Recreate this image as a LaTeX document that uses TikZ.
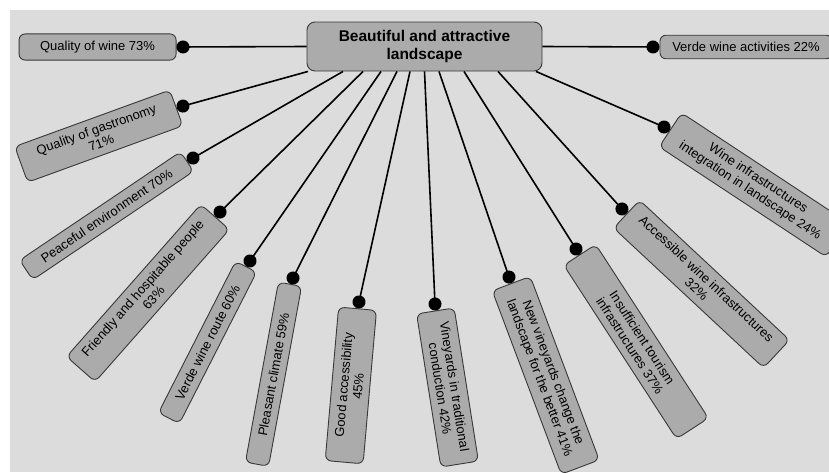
\documentclass[tikz,border=0pt]{standalone}
\usepackage{fontspec}
\setmainfont{Liberation Sans}
\usetikzlibrary{arrows.meta}
\definecolor{bggray}{HTML}{DCDCDC}
\definecolor{boxgray}{HTML}{ABABAB}
\definecolor{edgegray}{HTML}{383838}

\begin{document}
\begin{tikzpicture}[x=1pt,y=-1pt,->,>={Circle[length=13pt]},line width=1.6pt,
        leaf/.style={draw=edgegray,fill=boxgray,line width=0.9pt,rounded corners=6pt,
          font=\fontsize{13}{14.5}\selectfont,align=center,inner xsep=6pt,inner ysep=7pt},
        hub/.style={leaf,rounded corners=8pt,font=\fontsize{15.5}{18}\selectfont\bfseries,
          minimum width=235pt,minimum height=49pt}]

  \useasboundingbox (0,0) rectangle (829,472);
  \fill[bggray] (10,10) rectangle (829,472);

  \node[hub] (hub) at (424.5,46.5) {Beautiful and attractive\\landscape};

  \node[leaf,anchor=east,minimum width=157pt] (wine) at (176.5,47) {Quality of wine 73\%};
  \node[leaf,anchor=east,rotate=20,minimum width=165pt] (gastro) at (176.7,107.8) {Quality of gastronomy\\71\%};
  \node[leaf,anchor=east,rotate=34,minimum width=194pt] (peace) at (187.4,161.3) {Peaceful environment 70\%};
  \node[leaf,anchor=east,rotate=48.6,minimum width=203pt] (people) at (215.4,216.6) {Friendly and hospitable people\\63\%};
  \node[leaf,anchor=east,rotate=63,minimum width=170pt] (route) at (246.3,266.3) {Verde wine route 60\%};
  \node[leaf,anchor=east,rotate=79.6,minimum width=183pt] (climate) at (290.1,283.8) {Pleasant climate 59\%};
  \node[leaf,anchor=east,rotate=85,minimum width=154pt] (access) at (357.6,308.3) {Good accessibility\\45\%};
  \node[leaf,anchor=west,rotate=-81,minimum width=155pt] (trad) at (435.3,310.5) {Vineyards in traditional\\conduction 42\%};
  \node[leaf,anchor=west,rotate=-69.4,minimum width=196pt] (newvin) at (511.1,283.2) {New vineyards change the\\landscape for the better 41\%};
  \node[leaf,anchor=west,rotate=-57,minimum width=207pt] (tourism) at (579.5,254.5) {Insufficient tourism\\infrastructures 37\%};
  \node[leaf,anchor=west,rotate=-43,minimum width=205pt] (infra) at (626.3,213.8) {Accessible wine infrastructures\\32\%};
  \node[leaf,anchor=west,rotate=-33.4,minimum width=200pt] (integr) at (670,129.6) {Wine infrastructures\\integration in landscape 24\%};
  \node[leaf,anchor=west,minimum width=172pt] (activ) at (659.5,47) {Verde wine activities 22\%};

  \path (hub.west) edge (wine.east)
        ([xshift=-116.5pt]hub.south) edge (gastro.east)
        ([xshift=-81.5pt]hub.south)  edge (peace.east)
        ([xshift=-61.5pt]hub.south)  edge (people.east)
        ([xshift=-43.5pt]hub.south)  edge (route.east)
        ([xshift=-27.5pt]hub.south)  edge (climate.east)
        ([xshift=-14.5pt]hub.south)  edge (access.east)
        (hub.south)                  edge (trad.west)
        ([xshift=14.5pt]hub.south)   edge (newvin.west)
        ([xshift=39.5pt]hub.south)   edge (tourism.west)
        ([xshift=73.5pt]hub.south)   edge (infra.west)
        ([xshift=111.5pt]hub.south)  edge (integr.west)
        (hub.east) edge (activ.west);

\end{tikzpicture}
\end{document}
